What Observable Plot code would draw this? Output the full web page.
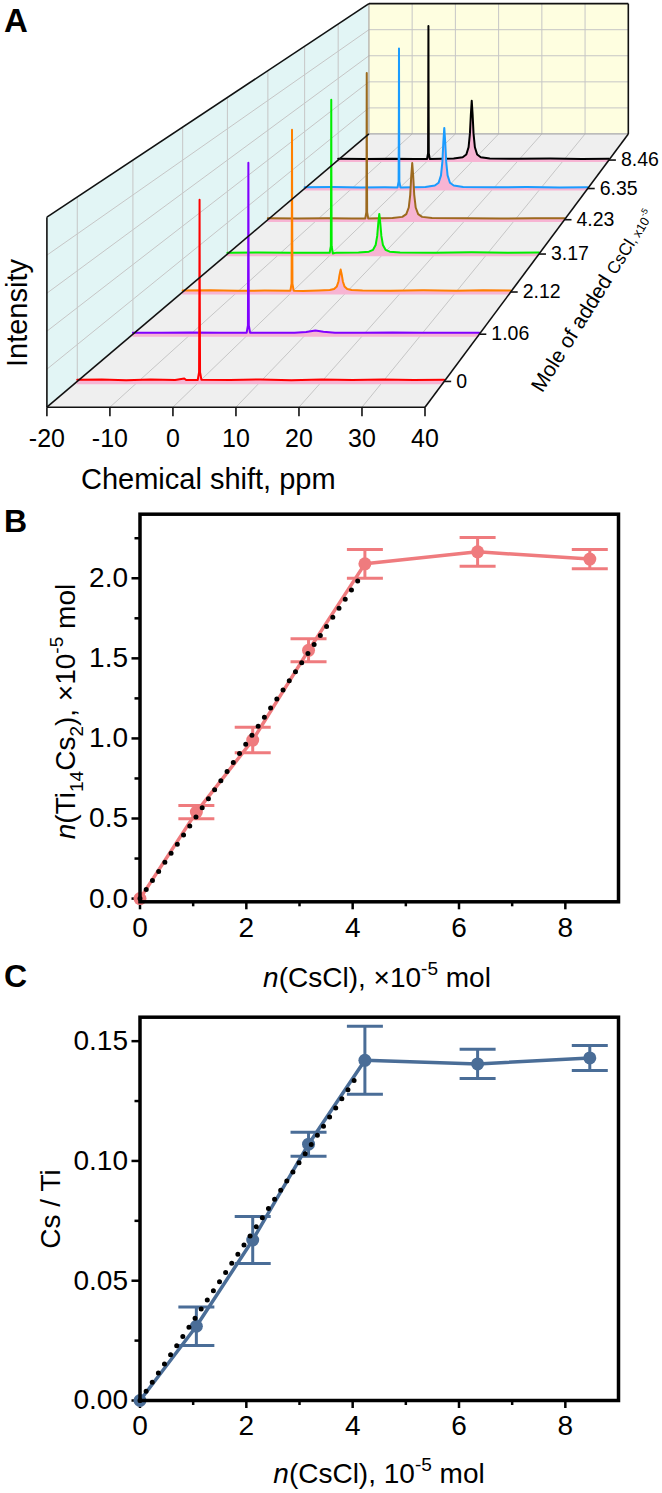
<!DOCTYPE html>
<html>
<head>
<meta charset="utf-8">
<script src="https://cdn.jsdelivr.net/npm/d3@7"></script>
<script src="https://cdn.jsdelivr.net/npm/@observablehq/plot@0.6"></script>
<style>
  body { margin: 0; background: #fff; }
  #wrap { position: relative; width: 662px; height: 1493px; overflow: hidden; }
  #wrap svg { position: absolute; left: 0; overflow: visible; background: transparent; }
</style>
</head>
<body>
<div id="wrap"></div>
<script>
// ---------------- DATA ----------------
const amounts = [0, 1.06, 2.12, 3.17, 4.23, 6.35, 8.46];
const depthLabels = ["0", "1.06", "2.12", "3.17", "4.23", "6.35", "8.46"];
const spectrumColors = ["#ff0000", "#8000ff", "#ff8000", "#00ee00", "#9c6a1e", "#1a9cff", "#000000"];
const ppmTicks = [-20, -10, 0, 10, 20, 30, 40];
const heightGrid = [0.2, 0.4, 0.6, 0.8];

// spectra: [chemical shift ppm, relative intensity]
const spectrum0 = [[-20,.009],[-16,.011],[-12,.007],[-8,.010],[-4,.008],[-2.5,.016],[-2.2,.008],[-0.3,.008],[-0.08,.05],[-0.03,.5],[0,.985],[0.03,.5],[0.08,.05],[0.3,.009],[5,.008],[10,.011],[15,.007],[20,.010],[25,.008],[30,.011],[35,.008],[40,.009]];
const spectrum1 = [[-20,.009],[-15,.008],[-10,.010],[-5,.008],[-0.3,.008],[-0.08,.05],[-0.03,.5],[0,.985],[0.03,.5],[0.08,.05],[0.3,.008],[4,.009],[8,.008],[10,.013],[11.6,.021],[13,.014],[15,.009],[20,.008],[25,.010],[30,.008],[35,.009],[40,.008]];
const spectrum2 = [[-20,.009],[-15,.011],[-10,.007],[-5,.009],[-0.3,.008],[-0.08,.05],[-0.03,.5],[0,.985],[0.03,.5],[0.08,.05],[0.3,.008],[2,.006],[4.9,.009],[6.9,.012],[7.7,.018],[8.2,.034],[8.5,.064],[8.7,.105],[8.9,.136],[9.1,.105],[9.3,.064],[9.6,.034],[10.1,.018],[10.9,.012],[12.9,.009],[18,.008],[24,.010],[30,.008],[35,.011],[40,.009]];
const spectrum3 = [[-20,.009],[-14,.010],[-8,.008],[-3,.009],[-0.3,.008],[-0.08,.05],[-0.03,.5],[0,.985],[0.03,.5],[0.08,.05],[0.3,.004],[1,.009],[5.25,.010],[7.25,.015],[8.05,.027],[8.55,.058],[8.85,.116],[9.05,.195],[9.25,.256],[9.45,.195],[9.65,.116],[9.95,.058],[10.45,.027],[11.25,.015],[13.25,.010],[20,.009],[27,.011],[34,.008],[40,.010]];
const spectrum4 = [[-20,.009],[-14,.008],[-8,.010],[-3,.008],[-0.3,.008],[-0.08,.05],[-0.03,.5],[0,.985],[0.03,.5],[0.08,.05],[0.3,.008],[5.2,.011],[7.2,.019],[8.0,.037],[8.5,.082],[8.8,.169],[9.0,.289],[9.2,.38],[9.4,.289],[9.6,.169],[9.9,.082],[10.4,.037],[11.2,.019],[13.2,.011],[20,.009],[27,.008],[34,.010],[40,.009]];
const spectrum5 = [[-20,.009],[-14,.010],[-8,.008],[-3,.009],[-0.3,.008],[-0.08,.05],[-0.03,.5],[0,.985],[0.03,.5],[0.08,.05],[0.3,.008],[5.6,.011],[7.6,.021],[8.4,.041],[8.9,.092],[9.2,.189],[9.4,.323],[9.6,.426],[9.8,.323],[10.0,.189],[10.3,.092],[10.8,.041],[11.6,.021],[13.6,.011],[20,.009],[27,.010],[34,.008],[40,.009]];
const spectrum6 = [[-20,.009],[-14,.008],[-8,.010],[-3,.008],[-0.3,.008],[-0.08,.05],[-0.03,.5],[0,.985],[0.03,.5],[0.08,.05],[0.3,.008],[5.6,.011],[7.6,.021],[8.4,.041],[8.9,.094],[9.2,.194],[9.4,.331],[9.6,.436],[9.8,.331],[10.0,.194],[10.3,.094],[10.8,.041],[11.6,.021],[13.6,.011],[20,.009],[27,.011],[34,.008],[40,.009]];
const spectra = [spectrum0, spectrum1, spectrum2, spectrum3, spectrum4, spectrum5, spectrum6];

// panel B
const xMajor = [0, 2, 4, 6, 8];
const xMinor = [1, 3, 5, 7];
const tiCsValues = [0, 0.54, 0.99, 1.55, 2.09, 2.165, 2.12];
const tiCsErrors = [0, 0.042, 0.08, 0.072, 0.09, 0.09, 0.06];
const tiCsFit = [[0, 0], [4.13, 2.0]];
const bYMajor = [0, 0.5, 1.0, 1.5, 2.0];
const bYMinor = [0.25, 0.75, 1.25, 1.75, 2.25];

// panel C
const ratioValues = [0, 0.031, 0.067, 0.107, 0.142, 0.1405, 0.143];
const ratioErrors = [0, 0.008, 0.0098, 0.005, 0.0142, 0.0061, 0.0052];
const ratioFit = [[0, 0], [4.13, 0.137]];
const cYMajor = [0, 0.05, 0.10, 0.15];
const cYMinor = [0.025, 0.075, 0.125];

// ---------------- HELPERS ----------------
const FONT = "'Liberation Sans', Arial, Helvetica, sans-serif";
const wrap = document.getElementById("wrap");
function place(svg, top) {
  svg.style.top = top + "px";
  wrap.appendChild(svg);
  return d3.select(svg);
}
function addLabel(sel, {x, y, rotate = 0, size, anchor = "middle", weight = "normal", dy = null, parts}) {
  const t = sel.append("text")
    .attr("transform", `translate(${x},${y}) rotate(${rotate})`)
    .attr("text-anchor", anchor).attr("font-size", size).attr("font-weight", weight)
    .attr("font-family", FONT).attr("fill", "black");
  if (dy != null) t.attr("dy", dy);
  let shift = 0;
  for (const [str, o = {}] of parts) {
    const ts = t.append("tspan").text(str);
    const fs = size * (o.scale || 1);
    const target = (o.shift || 0) * size;
    ts.attr("font-size", fs);
    if (o.italic) ts.attr("font-style", "italic");
    if (target !== shift) { ts.attr("dy", target - shift); shift = target; }
  }
  return t;
}
const SUB = {scale: 0.68, shift: 0.28};
const SUP = {scale: 0.68, shift: -0.42};
const IT = {italic: true};

// ---------------- PANEL A (perspective waterfall) ----------------
const ppmScale = Plot.scale({x: {domain: [-20, 40], range: [46.4, 424.5]}});
const hScale = Plot.scale({y: {domain: [0, 1], range: [406.7, 216.7]}});
const depthScale = Plot.scale({x: {domain: [-0.5, 7], range: [0, 1]}});
const VP = [1072, -463.5], K = 0.4577;
function proj(ppm, idx, h) {
  const xf = ppmScale.apply(ppm), yf = hScale.apply(h), d = depthScale.apply(idx);
  const s = 1 / (1 + K * d);
  return [VP[0] + s * (xf - VP[0]), VP[1] + s * (yf - VP[1])];
}
const P0 = -20, P1 = 40, D0 = -0.5, D1 = 7;
const seg = (a, b) => ({x1: a[0], y1: a[1], x2: b[0], y2: b[1]});
const linkOpts = {x1: "x1", y1: "y1", x2: "x2", y2: "y2"};

const floorPoly = [
  {y: proj(P0, D0, 0)[1], x1: proj(P0, D0, 0)[0], x2: proj(P1, D0, 0)[0]},
  {y: proj(P0, D1, 0)[1], x1: proj(P0, D1, 0)[0], x2: proj(P1, D1, 0)[0]}
];
const leftPoly = [
  {x: proj(P0, D0, 0)[0], y1: proj(P0, D0, 0)[1], y2: proj(P0, D0, 1)[1]},
  {x: proj(P0, D1, 0)[0], y1: proj(P0, D1, 0)[1], y2: proj(P0, D1, 1)[1]}
];
const backPoly = [
  {x: proj(P0, D1, 0)[0], y1: proj(P0, D1, 0)[1], y2: proj(P0, D1, 1)[1]},
  {x: proj(P1, D1, 0)[0], y1: proj(P1, D1, 0)[1], y2: proj(P1, D1, 1)[1]}
];
const innerPpm = ppmTicks.slice(1, -1);
const gridSegs = [
  ...innerPpm.map(p => seg(proj(p, D0, 0), proj(p, D1, 0))),
  ...amounts.map((_, i) => seg(proj(P0, i, 0), proj(P0, i, 1))),
  ...heightGrid.map(h => seg(proj(P0, D0, h), proj(P0, D1, h))),
  ...innerPpm.map(p => seg(proj(p, D1, 0), proj(p, D1, 1))),
  ...heightGrid.map(h => seg(proj(P0, D1, h), proj(P1, D1, h)))
];
const grayEdges = [
  seg(proj(P0, D1, 0), proj(P0, D1, 1)),
  seg(proj(P0, D1, 0), proj(P1, D1, 0))
];
const blackEdges = [
  seg(proj(P0, D0, 0), proj(P1, D0, 0)),
  seg(proj(P1, D0, 0), proj(P1, D1, 0)),
  seg(proj(P0, D0, 0), proj(P0, D1, 0)),
  seg(proj(P0, D0, 0), proj(P0, D0, 1)),
  seg(proj(P0, D0, 1), proj(P0, D1, 1)),
  seg(proj(P0, D1, 1), proj(P1, D1, 1)),
  seg(proj(P1, D1, 0), proj(P1, D1, 1))
];
const frontTicks = ppmTicks.map(p => { const a = proj(p, D0, 0); return {x1: a[0], y1: a[1], x2: a[0], y2: a[1] + 9}; });
const depthTicks = amounts.map((_, i) => { const a = proj(P1, i, 0); return {x1: a[0], y1: a[1], x2: a[0] + 7, y2: a[1]}; });

const spectrumMarks = [];
for (let i = spectra.length - 1; i >= 0; i--) {
  const pts = spectra[i].map(([p, h]) => {
    const a = proj(p, i, h), b = proj(p, i, -0.018);
    return {x: a[0], y: a[1], yb: b[1]};
  });
  spectrumMarks.push(Plot.areaY(pts, {x: "x", y1: "yb", y2: "y", fill: "#f7b4d3"}));
  spectrumMarks.push(Plot.line(pts, {x: "x", y: "y", stroke: spectrumColors[i], strokeWidth: 2, strokeLinejoin: "round"}));
}

const svgA = Plot.plot({
  width: 662, height: 495, margin: 0, axis: null,
  x: {type: "identity"}, y: {type: "identity"},
  style: {fontFamily: FONT, overflow: "visible", background: "transparent", color: "black"},
  marks: [
    Plot.areaY(leftPoly, {x: "x", y1: "y1", y2: "y2", fill: "#e2f5f5"}),
    Plot.areaY(backPoly, {x: "x", y1: "y1", y2: "y2", fill: "#fefee0"}),
    Plot.areaX(floorPoly, {y: "y", x1: "x1", x2: "x2", fill: "#efefef"}),
    Plot.link(gridSegs, {...linkOpts, stroke: "#c6c6c6", strokeWidth: 1}),
    Plot.link(grayEdges, {...linkOpts, stroke: "#a8a8a8", strokeWidth: 1.2}),
    ...spectrumMarks,
    Plot.link(blackEdges, {...linkOpts, stroke: "#111", strokeWidth: 1.6}),
    Plot.link(frontTicks, {...linkOpts, stroke: "#111", strokeWidth: 1.6}),
    Plot.link(depthTicks, {...linkOpts, stroke: "#111", strokeWidth: 1.6}),
    Plot.text(ppmTicks, {x: p => proj(p, D0, 0)[0], y: p => proj(p, D0, 0)[1], dy: 32, text: p => String(p), fontSize: 25, fill: "black"}),
    Plot.text(depthLabels, {x: (d, i) => proj(P1, i, 0)[0], y: (d, i) => proj(P1, i, 0)[1], dx: 12, text: d => d, textAnchor: "start", fontSize: 19.5, fill: "black"})
  ]
});
const selA = place(svgA, 0);
addLabel(selA, {x: 4, y: 32, size: 33, anchor: "start", weight: "bold", parts: [["A"]]});
addLabel(selA, {x: 27, y: 367, rotate: -90, size: 29, anchor: "start", parts: [["Intensity"]]});
addLabel(selA, {x: 81, y: 489, size: 29, anchor: "start", parts: [["Chemical shift, ppm"]]});
addLabel(selA, {x: 592, y: 300, rotate: -58, size: 21, dy: "0.35em", parts: [["Mole of added "], ["CsCl", {scale: 0.82}], [", x10", {scale: 0.6}], ["-5", {scale: 0.42, shift: -0.33}]]});

// ---------------- PANELS B & C ----------------
const capSymbol = {draw(ctx) { ctx.moveTo(-18, 0); ctx.lineTo(18, 0); }};
function scatterPanel({values, errors, fit, color, height, marginTop, marginBottom, yDomain, yMajor, yMinor, yFormat}) {
  const pts = amounts.map((x, i) => ({x, y: values[i], e: errors[i]}));
  const withErr = pts.filter(d => d.e > 0);
  const caps = withErr.flatMap(d => [{x: d.x, y: d.y + d.e}, {x: d.x, y: d.y - d.e}]);
  return Plot.plot({
    width: 662, height, marginLeft: 139.5, marginRight: 44, marginTop, marginBottom,
    x: {domain: [0, 9]}, y: {domain: yDomain},
    style: {fontFamily: FONT, fontSize: "28px", overflow: "visible", background: "transparent", color: "black"},
    marks: [
      Plot.axisX({ticks: xMajor, tickSize: 8, tickPadding: 7, tickFormat: d => String(d), label: null, strokeWidth: 2.5, fontSize: 28}),
      Plot.axisX({ticks: xMinor, tickSize: 5, tickFormat: () => "", label: null, strokeWidth: 2.5}),
      Plot.axisY({ticks: yMajor, tickSize: 8, tickPadding: 4, tickFormat: yFormat, label: null, strokeWidth: 2.5, fontSize: 28}),
      Plot.axisY({ticks: yMinor, tickSize: 5, tickFormat: () => "", label: null, strokeWidth: 2.5}),
      Plot.line(pts, {x: "x", y: "y", stroke: color, strokeWidth: 3.5}),
      Plot.ruleX(withErr, {x: "x", y1: d => d.y - d.e, y2: d => d.y + d.e, stroke: color, strokeWidth: 3}),
      Plot.dot(caps, {x: "x", y: "y", symbol: capSymbol, r: 1, stroke: color, strokeWidth: 3, fill: "none"}),
      Plot.dot(pts, {x: "x", y: "y", r: 6.5, fill: color}),
      Plot.line(fit, {x: d => d[0], y: d => d[1], stroke: "black", strokeWidth: 5, strokeDasharray: "0,11", strokeLinecap: "round"}),
      Plot.frame({stroke: "black", strokeWidth: 3.5})
    ]
  });
}

const svgB = scatterPanel({values: tiCsValues, errors: tiCsErrors, fit: tiCsFit, color: "#ef7b7e",
  height: 505, marginTop: 18.7, marginBottom: 98.7, yDomain: [-0.02, 2.4], yMajor: bYMajor, yMinor: bYMinor, yFormat: d3.format(".1f")});
const selB = place(svgB, 495);
addLabel(selB, {x: 4, y: 37, size: 32, anchor: "start", weight: "bold", parts: [["B"]]});
addLabel(selB, {x: 4, y: 492, size: 32, anchor: "start", weight: "bold", parts: [["C"]]});
addLabel(selB, {x: 377, y: 491.7, size: 28, parts: [["n", IT], ["(CsCl), ×10"], ["-5", SUP], [" mol"]]});
addLabel(selB, {x: 65, y: 216.5, rotate: -90, size: 28, dy: "0.35em", parts: [["n", IT], ["(Ti"], ["14", SUB], ["Cs"], ["2", SUB], ["), ×10"], ["-5", SUP], [" mol"]]});

const svgC = scatterPanel({values: ratioValues, errors: ratioErrors, fit: ratioFit, color: "#4a6d97",
  height: 493, marginTop: 16.7, marginBottom: 93, yDomain: [0, 0.16], yMajor: cYMajor, yMinor: cYMinor, yFormat: d3.format(".2f")});
const selC = place(svgC, 1000);
addLabel(selC, {x: 379, y: 483, size: 28, parts: [["n", IT], ["(CsCl), 10"], ["-5", SUP], [" mol"]]});
addLabel(selC, {x: 50, y: 209, rotate: -90, size: 28, dy: "0.35em", parts: [["Cs / Ti"]]});
</script>
</body>
</html>
